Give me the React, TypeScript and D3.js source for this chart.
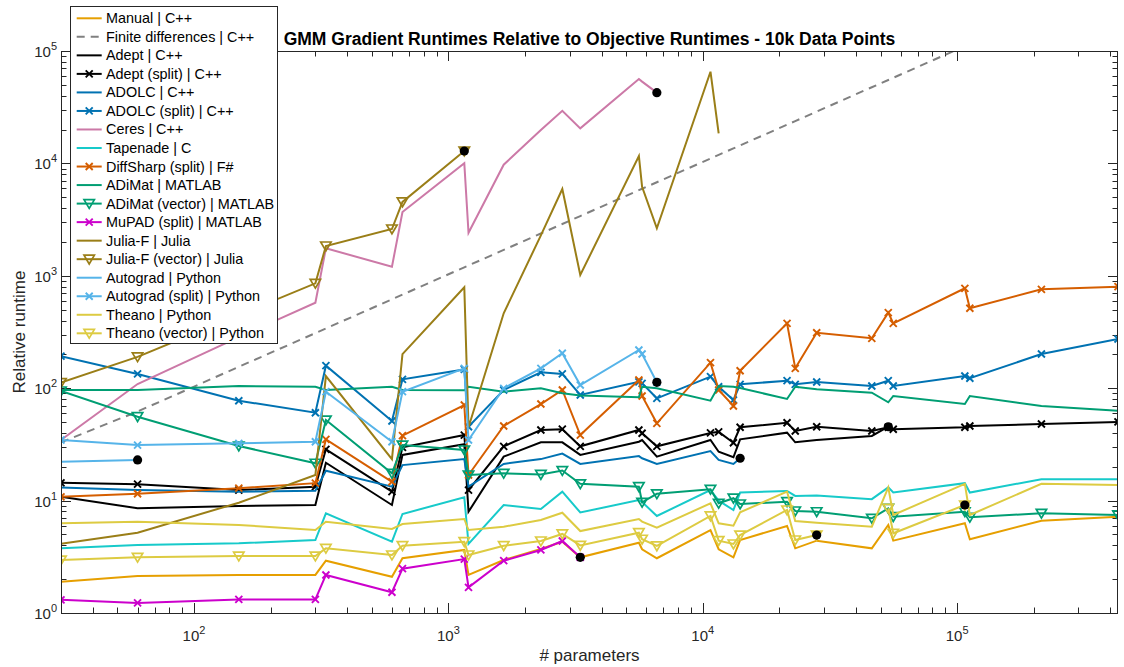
import React from 'react';
import * as d3 from 'd3';

// # parameters (x values, sorted)
const params = [30, 60, 150, 300, 330, 600, 660, 1155, 1200, 1650, 2310, 2805, 3300, 5610, 5775, 6600, 10725, 11550, 13200, 14025, 21450, 23100, 28050, 46200, 53625, 56100, 107250, 112200, 214500, 429000];

const manual = [1.90, 2.13, 2.18, 2.18, 2.92, 2.10, 3.07, 3.64, 2.18, 2.96, 3.71, 4.31, 3.13, 4.22, 3.69, 3.07, 5.47, 3.69, 3.13, 4.46, 5.94, 3.76, 4.40, 3.76, 6.07, 4.40, 6.28, 4.53, 6.63, 7.19];
const finiteDiff = [33, 62, 155, 309, 340, 618, 680, 1190, 1236, 1700, 2380, 2890, 3400, 5780, 5950, 6800, 11050, 11900, 13600, 14450, 22100, 23800, 28900, 47600, 55200, 57800, 110500, 115600, 221000, 442000];
const adept = [10.8, 8.54, 8.95, 9.14, 21.7, 9.14, 25.5, 31.7, 7.96, 24.6, 33.0, 33.0, 25.5, 33.4, 34.6, 24.6, 34.6, 27.2, 24.3, 35.1, 40.2, 33.0, 34.6, 37.6, 45.4, null, null, null, null, null];
const adeptSplit = [14.4, 14.0, 12.4, 13.3, 28.6, 12.0, 29.8, 38.3, 12.4, 30.4, 42.5, 43.2, 30.4, 42.5, 39.7, 30.4, 40.0, 40.9, 32.7, 44.9, 49.3, 41.6, 45.4, 41.6, 44.9, 43.1, 44.9, 46.1, 48.0, 50.1];
const adolc = [13.1, 12.4, 12.0, 12.25, 18.45, 13.3, 20.7, 23.4, 13.3, 21.2, 23.4, 26.2, 21.2, 24.9, 23.8, 21.2, 27.6, 23.0, 21.2, 23.8, null, null, null, null, null, null, null, null, null, null];
const adolcSplit = [193, 134, 77.4, 60.5, 158.6, 51.1, 120, 147, 45.4, 96.4, 138.5, 134, 87, 114, 110.5, 81.3, 126.6, 103, 78.5, 108.3, 116.6, 108.3, 113.5, 104.6, 116.6, 104.6, 128.4, 122.5, 201.5, 274];
const ceres = [34.6, 109, 285, 576, 1757, 1205, 3697, 10020, 2417, 9740, 19800, 29400, 20500, 56400, 53400, 42600, null, null, null, null, null, null, null, null, null, null, null, null, null, null];
const tapenade = [3.76, 4.03, 4.17, 4.46, 7.71, 4.31, 7.60, 10.7, 4.11, 9.14, 8.42, 12.0, 7.84, 10.1, 9.72, 7.30, 12.4, 9.98, 8.25, 11.8, 12.2, 11.0, 11.1, 10.3, 13.1, 11.8, 14.3, 11.8, 15.5, 15.5];
const diffSharp = [10.8, 11.5, 12.9, 14.3, 35.1, 14.7, 37.8, 70.9, 16.9, 46.1, 72.3, 96.4, 38.3, 118.3, 85.3, 48.7, 168.6, 96.4, 69.5, 143.1, 377.8, 150.3, 311.7, 277.9, 469.8, 377.8, 774, 514, 758, 800];
const adimat = [96.4, 96.4, 104.6, 103.1, 96.4, 103.1, 96.4, 95.8, 103.1, 93.1, 99.8, 90.1, 86.1, 83.0, 103.1, 99.8, 77.4, 104.6, 103.1, 100.4, 80.2, 103.1, 97.8, 91.2, 74.9, 85.3, 72.3, 85.3, 69.5, 63.1];
const adimatVector = [94.4, 55.8, 30.6, 21.5, 52.1, 17.5, 31.2, 28.2, 16.9, 17.5, 17.1, 18.5, 14.1, 13.3, 9.66, 11.5, 12.6, 9.46, 10.5, 9.33, 9.78, 8.08, 7.96, 6.96, 8.54, 7.19, 7.96, 7.10, 7.71, 7.45];
const mupad = [1.31, 1.23, 1.32, 1.32, 2.18, 1.53, 2.48, 3.02, 1.69, 2.92, 3.64, 4.37, 3.13, null, null, null, null, null, null, null, null, null, null, null, null, null, null, null, null, null];
const juliaF = [4.14, 5.18, 9.58, 16.9, 128, 23.4, 201, 790, 45, 464, 2287, 5920, 1016, 11640, 6200, 2650, 65400, 18530, null, null, null, null, null, null, null, null, null, null, null, null];
const juliaFVector = [112, 190, 448, 857, 1841, 2608, 4538, 12890, null, null, null, null, null, null, null, null, null, null, null, null, null, null, null, null, null, null, null, null, null, null];
const autograd = [22.2, 23.0, null, null, null, null, null, null, null, null, null, null, null, null, null, null, null, null, null, null, null, null, null, null, null, null, null, null, null, null];
const autogradSplit = [34.6, 31.2, 32.3, 33.4, 93.1, 33.4, 93.1, 150, 34.6, 99.8, 150, 204.6, 106.7, 218.7, 201.5, 112.8, null, null, null, null, null, null, null, null, null, null, null, null, null, null];
const theano = [6.28, 6.49, 6.07, 5.47, 6.49, 5.59, 6.19, 6.86, 5.47, 5.86, 6.72, 7.80, 5.36, 6.86, 6.5, 5.74, 9.46, 6.28, 5.98, 7.87, 12.0, 6.58, 6.36, 5.86, 13.1, 7.45, 14.1, 7.45, 14.1, 13.8];
const theanoVector = [2.96, 3.13, 3.21, 3.21, 3.76, 3.28, 3.97, 4.31, 3.28, 3.97, 4.37, 5.05, 3.99, 5.18, 4.53, 3.95, 7.30, 4.40, 4.11, 4.94, 8.25, 4.46, 4.94, null, 8.54, 5.12, 9.14, null, null, null];

// Series that ended (marked by a black dot): series name, # parameters at the dot
const endDotSeries = ['Autograd | Python', 'Julia-F (vector) | Julia', 'Ceres | C++', 'Autograd (split) | Python', 'ADOLC | C++', 'MuPAD (split) | MATLAB', 'Adept | C++', 'Theano (vector) | Python', 'Theano (vector) | Python'];
const endDotParams = [60, 1155, 6600, 6600, 14025, 3300, 53625, 28050, 107250];

const xTickExps = [2, 3, 4, 5];
const yTickExps = [0, 1, 2, 3, 4, 5];

const title = 'GMM Gradient Runtimes Relative to Objective Runtimes - 10k Data Points';
const xLabel = '# parameters';
const yLabel = 'Relative runtime';

type Marker = 'none' | 'x' | 'v';
interface SeriesDef { name: string; values: (number | null)[]; color: string; marker: Marker; dashed?: boolean; }

const series: SeriesDef[] = [
  { name: 'Manual | C++', values: manual, color: '#E69F00', marker: 'none' },
  { name: 'Finite differences | C++', values: finiteDiff, color: '#808080', marker: 'none', dashed: true },
  { name: 'Adept | C++', values: adept, color: '#000000', marker: 'none' },
  { name: 'Adept (split) | C++', values: adeptSplit, color: '#000000', marker: 'x' },
  { name: 'ADOLC | C++', values: adolc, color: '#0072B2', marker: 'none' },
  { name: 'ADOLC (split) | C++', values: adolcSplit, color: '#0072B2', marker: 'x' },
  { name: 'Ceres | C++', values: ceres, color: '#CC79A7', marker: 'none' },
  { name: 'Tapenade | C', values: tapenade, color: '#17CACA', marker: 'none' },
  { name: 'DiffSharp (split) | F#', values: diffSharp, color: '#D55E00', marker: 'x' },
  { name: 'ADiMat | MATLAB', values: adimat, color: '#009E73', marker: 'none' },
  { name: 'ADiMat (vector) | MATLAB', values: adimatVector, color: '#009E73', marker: 'v' },
  { name: 'MuPAD (split) | MATLAB', values: mupad, color: '#CC00CC', marker: 'x' },
  { name: 'Julia-F | Julia', values: juliaF, color: '#9A7E17', marker: 'none' },
  { name: 'Julia-F (vector) | Julia', values: juliaFVector, color: '#9A7E17', marker: 'v' },
  { name: 'Autograd | Python', values: autograd, color: '#56B4E9', marker: 'none' },
  { name: 'Autograd (split) | Python', values: autogradSplit, color: '#56B4E9', marker: 'x' },
  { name: 'Theano | Python', values: theano, color: '#DDCB42', marker: 'none' },
  { name: 'Theano (vector) | Python', values: theanoVector, color: '#DDCB42', marker: 'v' },
];

const FONT = '"Liberation Sans", Arial, Helvetica, sans-serif';
const AX = '#262626';

function MarkerShape({ kind, cx, cy, color }: { kind: Marker; cx: number; cy: number; color: string }) {
  if (kind === 'x') {
    const s = 3.5;
    return <path d={`M${cx - s},${cy - s}L${cx + s},${cy + s}M${cx - s},${cy + s}L${cx + s},${cy - s}`} stroke={color} strokeWidth={1.9} fill="none" />;
  }
  if (kind === 'v') {
    return <path d={`M${cx - 5.2},${cy - 4}L${cx + 5.2},${cy - 4}L${cx},${cy + 4.8}Z`} stroke={color} strokeWidth={1.7} fill="none" strokeLinejoin="miter" />;
  }
  return null;
}

export default function App() {
  const W = 1124, H = 667;
  const left = 61, right = 1118, top = 51, bottom = 613;
  const x = d3.scaleLog().domain([30, 429000]).range([left, right]);
  const y = d3.scaleLog().domain([1, 1e5]).range([bottom, top]);

  const line = d3.line<[number, number | null]>()
    .defined(d => d[1] != null)
    .x(d => x(d[0]))
    .y(d => y(d[1] as number));

  const xMinor: number[] = [];
  for (let e = 1; e <= 5; e++) for (let m = 2; m <= 9; m++) { const v = m * Math.pow(10, e); if (v >= 30 && v <= 429000) xMinor.push(v); }
  const yMinor: number[] = [];
  for (let e = 0; e < 5; e++) for (let m = 2; m <= 9; m++) yMinor.push(m * Math.pow(10, e));

  const majorLen = 10, minorLen = 5.5;

  const legendX = 70.5, legendY = 6.5, legendW = 207, legendH = 337;
  const rowY0 = 18.3, rowStep = 18.53;

  return (
    <svg width={W} height={H} style={{ position: 'absolute', left: 0, top: 0, background: '#fff' }} fontFamily={FONT}>
      <defs>
        <clipPath id="plotClip"><rect x={left} y={top} width={right - left} height={bottom - top} /></clipPath>
      </defs>
      <rect x={0} y={0} width={W} height={H} fill="#fff" />

      {/* ticks */}
      <g stroke={AX} strokeWidth={1}>
        {xTickExps.map(e => {
          const px = Math.round(x(Math.pow(10, e))) + 0.5;
          return <g key={'xM' + e}><line x1={px} x2={px} y1={bottom} y2={bottom - majorLen} /><line x1={px} x2={px} y1={top} y2={top + majorLen} /></g>;
        })}
        {xMinor.map(v => {
          const px = Math.round(x(v)) + 0.5;
          return <g key={'xm' + v}><line x1={px} x2={px} y1={bottom} y2={bottom - minorLen} /><line x1={px} x2={px} y1={top} y2={top + minorLen} /></g>;
        })}
        {yTickExps.map(e => {
          const py = Math.round(y(Math.pow(10, e))) + 0.5;
          return <g key={'yM' + e}><line x1={left} x2={left + majorLen} y1={py} y2={py} /><line x1={right} x2={right - majorLen} y1={py} y2={py} /></g>;
        })}
        {yMinor.map(v => {
          const py = Math.round(y(v)) + 0.5;
          return <g key={'ym' + v}><line x1={left} x2={left + minorLen} y1={py} y2={py} /><line x1={right} x2={right - minorLen} y1={py} y2={py} /></g>;
        })}
      </g>

      {/* series */}
      <g clipPath="url(#plotClip)">
        {series.map(s => {
          const pts: [number, number | null][] = params.map((p, i) => [p, s.values[i]]);
          return (
            <g key={s.name}>
              <path d={line(pts) || ''} fill="none" stroke={s.color} strokeWidth={2} strokeDasharray={s.dashed ? '8,6' : undefined} strokeLinejoin="miter" />
              {s.marker !== 'none' && pts.filter(d => d[1] != null).map((d, i) => (
                <MarkerShape key={i} kind={s.marker} cx={x(d[0])} cy={y(d[1] as number)} color={s.color} />
              ))}
            </g>
          );
        })}
        {endDotSeries.map((name, i) => {
          const s = series.find(t => t.name === name)!;
          const idx = params.indexOf(endDotParams[i]);
          const v = s.values[idx] as number;
          return <circle key={'dot' + i} cx={x(endDotParams[i])} cy={y(v)} r={4.6} fill="#000" />;
        })}
      </g>

      {/* axes box */}
      <rect x={left + 0.5} y={top + 0.5} width={right - left - 1} height={bottom - top} fill="none" stroke={AX} strokeWidth={1} />

      {/* tick labels */}
      <g fill={AX}>
        {xTickExps.map(e => (
          <text key={'xl' + e} x={x(Math.pow(10, e))} y={641} textAnchor="middle" fontSize={15}>
            10<tspan fontSize={11} dy={-7}>{e}</tspan>
          </text>
        ))}
        {yTickExps.map(e => (
          <text key={'yl' + e} x={57} y={y(Math.pow(10, e)) + 6} textAnchor="end" fontSize={15}>
            10<tspan fontSize={11} dy={-7}>{e}</tspan>
          </text>
        ))}
      </g>

      {/* labels */}
      <text x={(left + right) / 2} y={45} textAnchor="middle" fontSize={17.5} fontWeight="bold" fill="#000">{title}</text>
      <text x={(left + right) / 2} y={661} textAnchor="middle" fontSize={17} fill={AX}>{xLabel}</text>
      <text transform={`translate(25,${(top + bottom) / 2}) rotate(-90)`} textAnchor="middle" fontSize={17} fill={AX}>{yLabel}</text>

      {/* legend */}
      <g>
        <rect x={legendX} y={legendY} width={legendW} height={legendH} fill="#fff" stroke={AX} strokeWidth={1} />
        {series.map((s, i) => {
          const ry = rowY0 + i * rowStep;
          return (
            <g key={'lg' + s.name}>
              <line x1={76.7} x2={101.7} y1={ry} y2={ry} stroke={s.color} strokeWidth={2} strokeDasharray={s.dashed ? '8,6' : undefined} />
              <MarkerShape kind={s.marker} cx={89.2} cy={ry} color={s.color} />
              <text x={106} y={ry + 5} fontSize={14.4} fill="#000">{s.name}</text>
            </g>
          );
        })}
      </g>
    </svg>
  );
}
